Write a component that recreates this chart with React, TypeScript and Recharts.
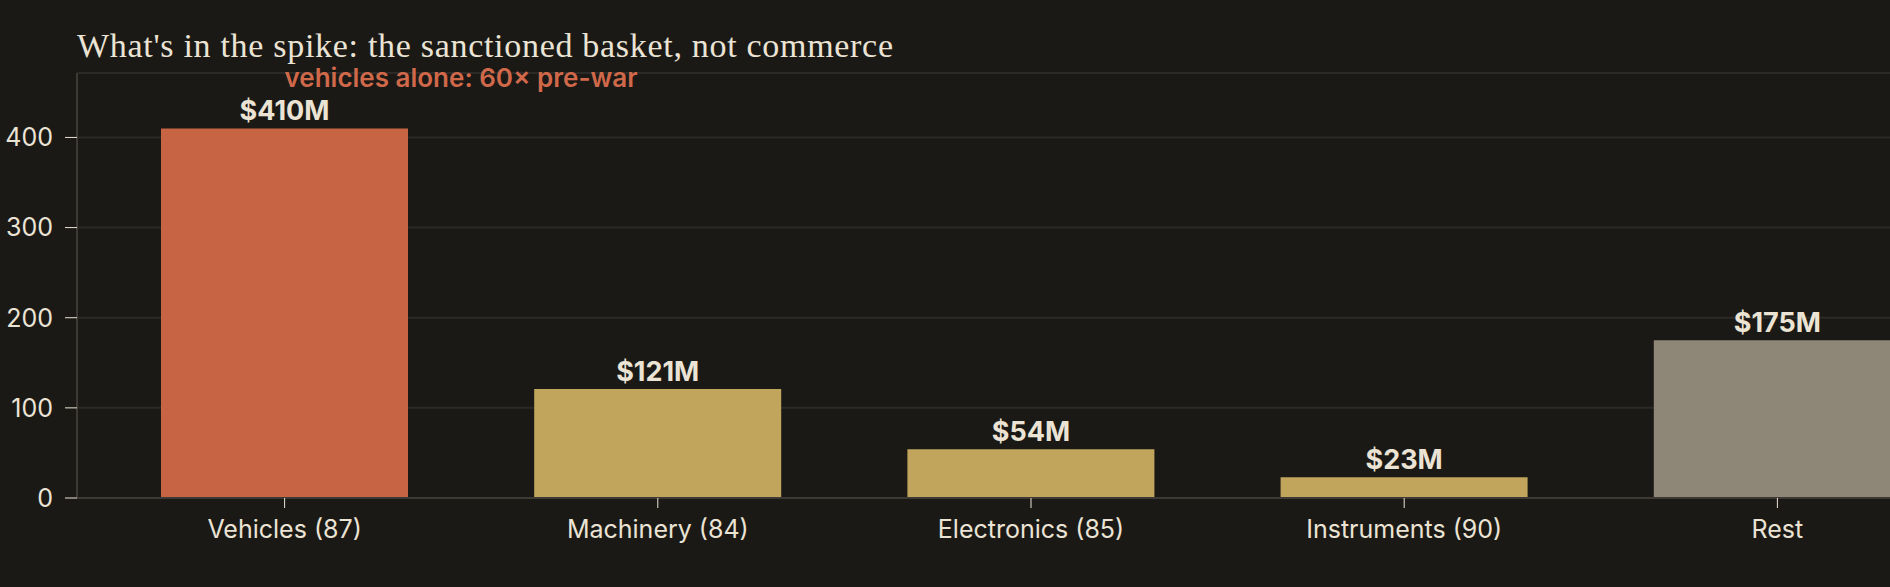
import { Bar, BarChart, CartesianGrid, Cell, LabelList, XAxis, YAxis } from "recharts";

const categories = ["Vehicles (87)", "Machinery (84)", "Electronics (85)", "Instruments (90)", "Rest"];
const values = [410, 121, 54, 23, 175];
const notes = ["vehicles alone: 60× pre-war", "", "", "", ""];
const yTicks = [0, 100, 200, 300, 400];

const barColors = ["#c76443", "#c2a55c", "#c2a55c", "#c2a55c", "#8e8676"];
const BG = "#1b1916";
const INK = "#ebe4d5";
const SANS = "Inter, 'Noto Sans', sans-serif";

const data = categories.map((name, i) => ({ name, value: values[i], note: notes[i] }));

function BarLabel(props: any) {
  const { x, y, width, value, index } = props;
  const cx = Number(x) + Number(width) / 2;
  const note = notes[index];
  return (
    <g>
      <text
        x={cx}
        y={Number(y) - 8}
        textAnchor="middle"
        fill={INK}
        fontFamily={SANS}
        fontWeight={700}
        fontSize={27}
      >
        {`$${value}M`}
      </text>
      {note ? (
        <text
          x={cx}
          y={Number(y) - 41}
          textAnchor="start"
          fill="#d0684a"
          fontFamily={SANS}
          fontWeight={600}
          fontSize={26}
        >
          {note}
        </text>
      ) : null}
    </g>
  );
}

export default function App() {
  return (
    <div
      style={{
        position: "fixed",
        left: 0,
        top: 0,
        width: 1890,
        height: 587,
        overflow: "hidden",
        background: BG,
      }}
    >
      <div
        style={{
          position: "absolute",
          left: 77,
          top: 29,
          fontFamily: "'Liberation Serif', 'DejaVu Serif', serif",
          fontSize: 34,
          letterSpacing: 0.7,
          lineHeight: 1,
          color: INK,
          whiteSpace: "nowrap",
        }}
      >
        What's in the spike: the sanctioned basket, not commerce
      </div>
      <BarChart
        width={2000}
        height={587}
        data={data}
        margin={{ top: 73, right: 15, left: 0, bottom: 29 }}
      >
        <CartesianGrid stroke="#2c2a26" strokeWidth={2} vertical={false} />
        <XAxis
          dataKey="name"
          interval={0}
          height={60}
          padding={{ left: 21, right: 21 }}
          axisLine={{ stroke: "#3d3a35", strokeWidth: 2 }}
          tickLine={{ stroke: INK }}
          tickSize={10}
          tickMargin={12}
          tick={{ fill: INK, fontSize: 25, fontFamily: SANS }}
        />
        <YAxis
          width={77}
          domain={[0, 471.5]}
          ticks={yTicks}
          axisLine={{ stroke: "#3d3a35", strokeWidth: 2 }}
          tickLine={{ stroke: INK }}
          tickSize={12}
          tickMargin={12}
          tick={{ fill: INK, fontSize: 25, fontFamily: SANS }}
        />
        <Bar dataKey="value" barSize={247} isAnimationActive={false}>
          {data.map((d, i) => (
            <Cell key={d.name} fill={barColors[i]} />
          ))}
          <LabelList dataKey="value" content={BarLabel} />
        </Bar>
      </BarChart>
    </div>
  );
}
